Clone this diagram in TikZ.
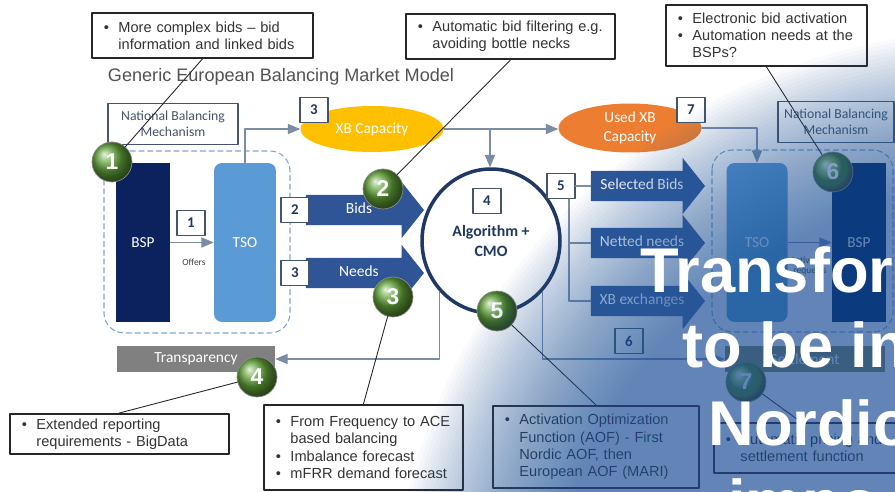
\documentclass[tikz,border=0pt]{standalone}
\usepackage{fontspec}
\setmainfont{Liberation Sans}
\newfontfamily\calfont{Carlito}
\usetikzlibrary{arrows,shapes.geometric,shapes.arrows}

\definecolor{bspnavy}{RGB}{12,34,94}
\definecolor{tsoblue}{RGB}{91,155,213}
\definecolor{flowblue}{RGB}{47,85,151}
\definecolor{xbgold}{RGB}{255,192,0}
\definecolor{usedorange}{RGB}{237,125,49}
\definecolor{cmonavy}{RGB}{31,56,100}
\definecolor{slate}{RGB}{68,84,106}
\definecolor{linegray}{RGB}{125,140,165}
\definecolor{grpblue}{RGB}{125,165,210}
\definecolor{ballgreen}{RGB}{96,160,56}
\definecolor{veilblue}{RGB}{40,94,163}

\newcommand{\bul}{\makebox[0.29cm][l]{\textbullet}}
\newcommand{\ind}{\hspace*{0.29cm}}

\begin{document}
\begin{tikzpicture}[line cap=round,line join=round,>=triangle 45,x=0.02cm,y=-0.02cm,
  conn/.style={draw=linegray,line width=0.6pt},
  lead/.style={draw=black!85,line width=0.5pt},
  numbox/.style={draw=slate,line width=0.7pt,fill=white,text=cmonavy,font=\calfont\bfseries\fontsize{8.5}{9}\selectfont,minimum width=0.56cm,minimum height=0.5cm,inner sep=0pt},
  nbm/.style={draw=slate,line width=0.8pt,fill=white,text=slate,align=center,font=\calfont\fontsize{7.8}{9}\selectfont,inner sep=0pt,minimum height=0.82cm},
  unit/.style={fill=#1,text=white,font=\calfont\fontsize{8.7}{9}\selectfont,inner sep=0pt,minimum height=3.18cm},
  flow/.style={single arrow,fill=flowblue,text=white,font=\calfont\fontsize{8.8}{9}\selectfont,single arrow head extend=0.26cm,single arrow tip angle=103,text height=6.5pt,text depth=2pt,inner ysep=4.1pt,inner xsep=0pt},
  grp/.style={draw=grpblue,densely dashed,line width=0.6pt,rounded corners=0.4cm},
  greybar/.style={fill=black!50,text=white,font=\calfont\fontsize{8.8}{9}\selectfont,minimum height=0.52cm,inner sep=0pt},
  gball/.style={circle,ball color=ballgreen,draw=black!45,line width=0.4pt,minimum size=0.8cm,inner sep=0pt,text=white,font=\bfseries\fontsize{13}{13}\selectfont},
  callout/.style={draw=black!85,line width=1.1pt,fill=white,anchor=north west,align=left,inner xsep=0.24cm,inner ysep=0pt,text=black!80,font=\fontsize{8.3}{9.8}\selectfont},
  bigtext/.style={text=white,font=\bfseries\fontsize{36}{36}\selectfont,inner sep=0pt,anchor=base west}]

\useasboundingbox (0,0) rectangle (895,492);
\fill[white] (0,0) rectangle (895,492);

\node[font=\fontsize{10.3}{12}\selectfont,text=black!68] (title) at (281,77) {Generic European Balancing Market Model};

\node[nbm,minimum width=2.6cm] (nbml) at (173,124) {National Balancing\\Mechanism};
\node[nbm,minimum width=2.32cm] (nbmr) at (836,122) {National Balancing\\Mechanism};

\draw[grp] (104,151) rectangle (290,333);
\draw[grp] (712,150) rectangle (893,332);

\node[unit=bspnavy,minimum width=1.08cm] (bspl) at (143,242.5) {BSP};
\node[unit=tsoblue,rounded corners=0.16cm,minimum width=1.24cm] (tsol) at (245,242.5) {TSO};
\node[unit=tsoblue,rounded corners=0.16cm,minimum width=1.22cm] (tsor) at (757,242.5) {TSO};
\node[unit=bspnavy,minimum width=1.08cm] (bspr) at (859,242.5) {BSP};

\draw[conn,->] (bspl) -- (tsol);
\node[numbox] (n1) at (191,223) {1};
\node[font=\calfont\fontsize{5.4}{6}\selectfont,text=black!75] (offers) at (194,262) {Offers};
\draw[conn,->] (tsor) -- (bspr);
\node[font=\calfont\fontsize{5.4}{6.2}\selectfont,text=black!75,align=center] (actreq) at (810,266) {Activation\\requests};

\node[ellipse,draw=cmonavy,line width=2pt,fill=white,text=cmonavy,align=center,font=\calfont\bfseries\fontsize{9}{11}\selectfont,minimum width=2.76cm,minimum height=2.88cm,inner sep=0pt] (algo) at (491,241) {Algorithm +\\CMO};
\node[numbox] (n4) at (487,201) {4};

\node[ellipse,fill=xbgold,text=white,font=\calfont\fontsize{8.7}{9}\selectfont,minimum width=2.86cm,minimum height=0.92cm,inner sep=0pt] (xbcap) at (372,129) {XB Capacity};
\node[ellipse,fill=usedorange,text=white,align=center,font=\calfont\fontsize{8.7}{10.5}\selectfont,minimum width=2.86cm,minimum height=0.98cm,inner sep=0pt] (usedxb) at (630,128) {Used XB\\Capacity};
\node[numbox] (n3a) at (314,110) {3};
\node[numbox] (n7) at (691,110) {7};

\draw[conn,->] (tsol.north) |- (xbcap.west);
\draw[conn,->] (xbcap.east) -- (xbcap.east -| usedxb.west);
\coordinate (split) at (490,129);
\draw[conn,->] (split) -- (split |- algo.north);
\draw[conn,->] (usedxb.east) -| (tsor.north);

\node[flow,minimum height=2.36cm] (bids) at (359,210) {Bids};
\node[flow,minimum height=2.36cm] (needs) at (359,273) {Needs};
\node[numbox] (n2) at (295,210) {2};
\node[numbox] (n3b) at (295,273) {3};

\node[flow,minimum height=2.28cm] (selbids) at (642,186) {Selected Bids};
\node[flow,minimum height=2.28cm] (netted) at (642,243) {Netted needs};
\node[flow,minimum height=2.28cm] (xbexch) at (642,301) {XB exchanges};
\node[numbox] (n5) at (561,186) {5};
\draw[conn] (n5) -- (selbids.tail);
\coordinate (trunk) at (569,199);
\draw[conn] (trunk) |- (xbexch.tail);
\draw[conn] (trunk |- netted.tail) -- (netted.tail);
\node[numbox] (n6) at (629,341) {6};

\node[greybar,minimum width=3.16cm] (transp) at (196,359) {Transparency};
\node[greybar,minimum width=3.2cm] (settle) at (805,359) {Settlement};
\draw[conn,->] (algo.225) |- (transp.east);
\draw[conn,->] (algo.-45) |- (settle.west);

\node[callout,text width=3.94cm,minimum height=0.9cm] (c1) at (91,12) {\bul More complex bids – bid\\\ind information and linked bids};
\node[callout,text width=3.7cm,minimum height=0.9cm] (c2) at (405,13) {\bul Automatic bid filtering e.g.\\\ind avoiding bottle necks};
\node[callout,text width=3.54cm,minimum height=1.22cm] (c3) at (665,4) {\bul Electronic bid activation\\\bul Automation needs at the\\\ind BSPs?};
\node[callout,text width=3.9cm,minimum height=0.8cm] (c4) at (9,413) {\bul Extended reporting\\\ind requirements - BigData};
\node[callout,text width=3.5cm,minimum height=1.7cm] (c5) at (263,404) {\bul From Frequency to ACE\\\ind based balancing\\\bul Imbalance forecast\\\bul mFRR demand forecast};
\node[callout,text width=3.64cm,minimum height=1.64cm] (c6) at (492,405) {\bul Activation Optimization\\\ind Function (AOF) - First\\\ind Nordic AOF, then\\\ind European AOF (MARI)};
\node[callout,text width=3.52cm,minimum height=1.0cm] (c7) at (713,422) {\bul Automatic pricing and\\\ind settlement function};

\node[gball] (g1) at (112,162) {1};
\node[gball] (g2) at (383,189) {2};
\node[gball] (g3) at (393,297) {3};
\node[gball] (g4) at (257,377) {4};
\node[gball] (g5) at (497,311) {5};
\node[gball] (g6) at (833,172) {6};
\node[gball] (g7) at (746,382) {7};

\draw[lead] (c1.south) -- (g1);
\draw[lead] (c2.south) -- (g2);
\draw[lead] (c3.south) -- (g6);
\draw[lead] (c4.north) -- (g4);
\draw[lead] (c5.north) -- (g3);
\draw[lead] (c6.north) -- (g5);
\draw[lead] ([xshift=-0.26cm]c7.north) -- (g7);

\begin{scope}
\clip (0,0) rectangle (895,492);
\foreach \r in {450,454,...,610}
  \fill[veilblue,fill opacity=0.026] (1000,640) circle [radius=\r];
\node[bigtext] (h1) at (640,293) {Transfor};
\node[bigtext] (h2) at (682,368) {to be in};
\node[bigtext] (h3) at (708,446) {Nordic};
\node[bigtext] (h4) at (728,524) {impo};
\end{scope}
\end{tikzpicture}
\end{document}
